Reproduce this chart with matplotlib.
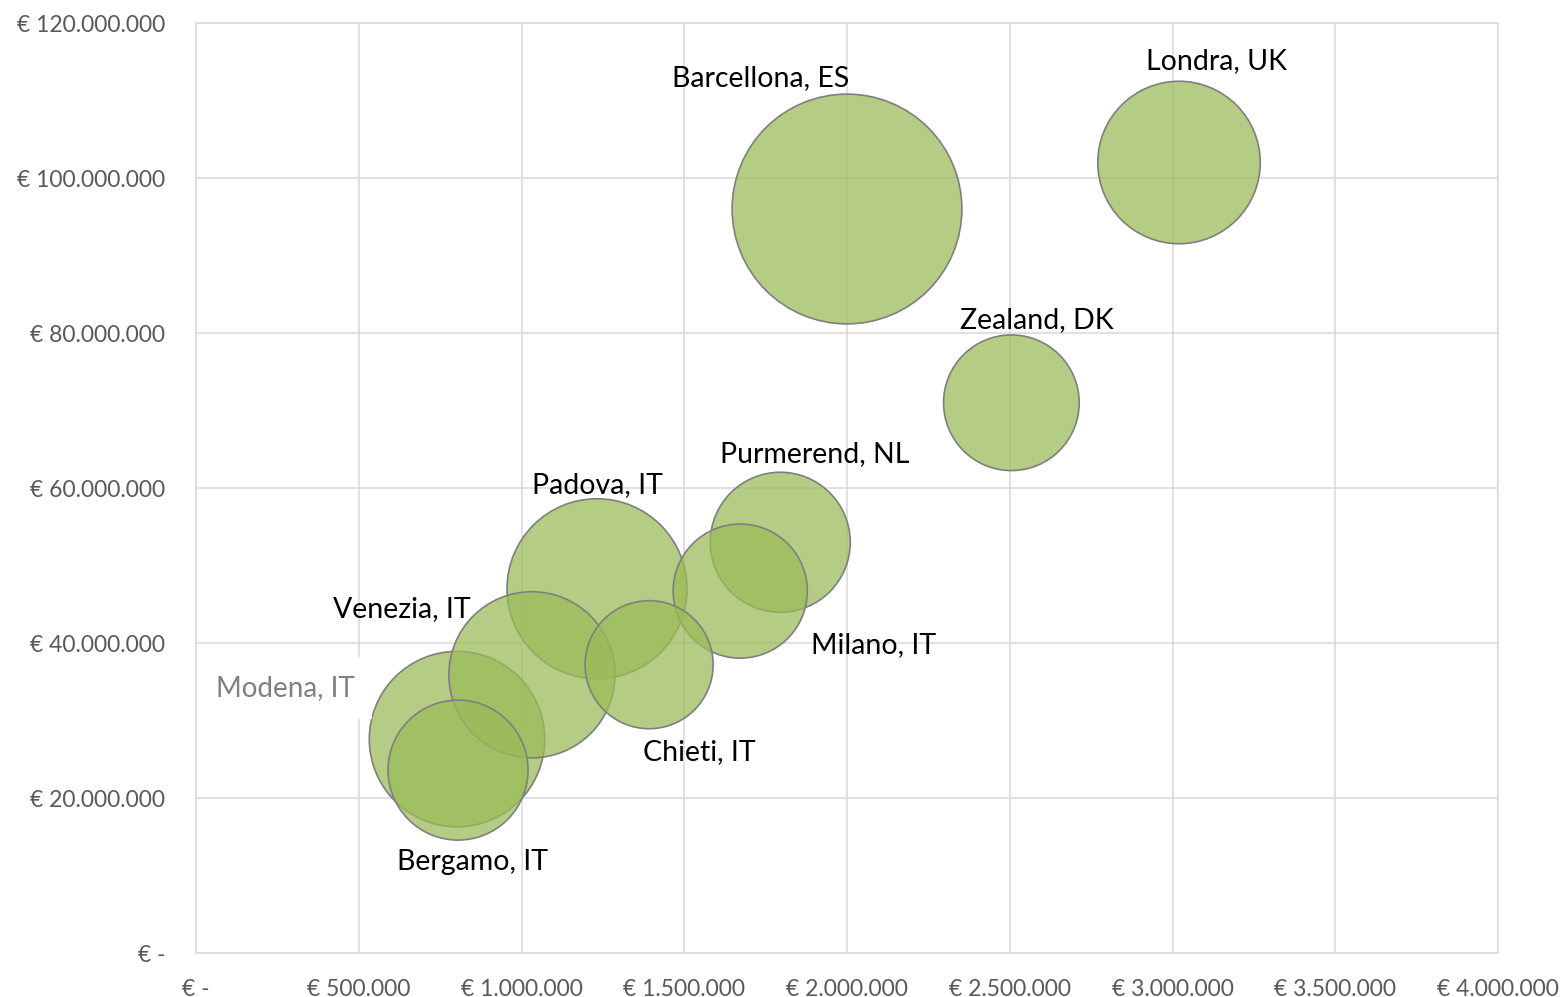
import matplotlib
matplotlib.use("Agg")
import matplotlib.pyplot as plt
from matplotlib.ticker import FuncFormatter
import numpy as np

plt.rcParams['font.family'] = ['Lato', 'DejaVu Sans']

cities = ["Barcellona, ES", "Londra, UK", "Zealand, DK", "Purmerend, NL", "Milano, IT",
          "Padova, IT", "Chieti, IT", "Venezia, IT", "Modena, IT", "Bergamo, IT"]
x_vals = [2000000, 3020000, 2505000, 1795000, 1672000, 1232000, 1392000, 1032000, 802000, 805000]
y_vals = [96000000, 102000000, 71000000, 53000000, 46700000, 47000000, 37200000, 35900000, 27600000, 23600000]
sizes = [132, 66, 46, 49, 45, 81, 41, 69, 77, 49]

x_ticks = [0, 500000, 1000000, 1500000, 2000000, 2500000, 3000000, 3500000, 4000000]
y_ticks = [0, 20000000, 40000000, 60000000, 80000000, 100000000, 120000000]

# label offsets (pixels) relative to bubble centres
label_offsets = {
    "Barcellona, ES": (-86, 131), "Londra, UK": (37, 101), "Zealand, DK": (25, 83),
    "Purmerend, NL": (34, 88), "Padova, IT": (0, 104), "Venezia, IT": (-130, 66),
    "Modena, IT": (-172, 51), "Milano, IT": (133, -54), "Chieti, IT": (50, -87),
    "Bergamo, IT": (14, -92),
}

DPI = 100
fig = plt.figure(figsize=(15.65, 9.97), dpi=DPI)
ax = fig.add_axes([196/1565, 44/997, (1498-196)/1565, (953-23)/997])

grid_c = "#D9D9D9"
ax.set_xlim(0, 4000000)
ax.set_ylim(0, 120000000)
ax.set_xticks(x_ticks)
ax.set_yticks(y_ticks)
ax.grid(True, color=grid_c, linewidth=1.1, zorder=0)
ax.set_axisbelow(True)
for s in ax.spines.values():
    s.set_color(grid_c)
    s.set_linewidth(1.1)


def fmt(v, pos):
    if v == 0:
        return "€ -"
    return "€ " + f"{int(round(v)):,}".replace(",", ".")


ax.xaxis.set_major_formatter(FuncFormatter(fmt))
ax.yaxis.set_major_formatter(FuncFormatter(fmt))
ax.tick_params(axis='both', length=0, labelsize=16.5, labelcolor="#595959")
ax.tick_params(axis='x', pad=18.5)
ax.tick_params(axis='y', pad=22)

# bubble diameter in px = 20*sqrt(size); marker size s in points^2
order = np.argsort(sizes)[::-1]
for z, i in enumerate(order):
    d_px = 20 * np.sqrt(sizes[i])
    s_pt = (d_px * 72 / DPI) ** 2
    ax.scatter([x_vals[i]], [y_vals[i]], s=s_pt, color="#9BBB59", alpha=0.75,
               edgecolors="none", zorder=2 + z, clip_on=False)
    ax.scatter([x_vals[i]], [y_vals[i]], s=s_pt, facecolors="none",
               edgecolors="#7F7F7F", linewidths=1.2, zorder=2 + z, clip_on=False)

for i, c in enumerate(cities):
    dx, dy = label_offsets[c]
    if c == "Modena, IT":
        ax.annotate(c, xy=(x_vals[i], y_vals[i]), xytext=(dx, dy), textcoords='offset pixels',
                    ha='center', va='center', fontsize=20, color="#808080", zorder=50,
                    bbox=dict(boxstyle='square,pad=0.65', facecolor='white', edgecolor='none'))
    else:
        ax.annotate(c, xy=(x_vals[i], y_vals[i]), xytext=(dx, dy), textcoords='offset pixels',
                    ha='center', va='center', fontsize=20.5, color="black", zorder=50)

fig.savefig("out.png", dpi=DPI)
